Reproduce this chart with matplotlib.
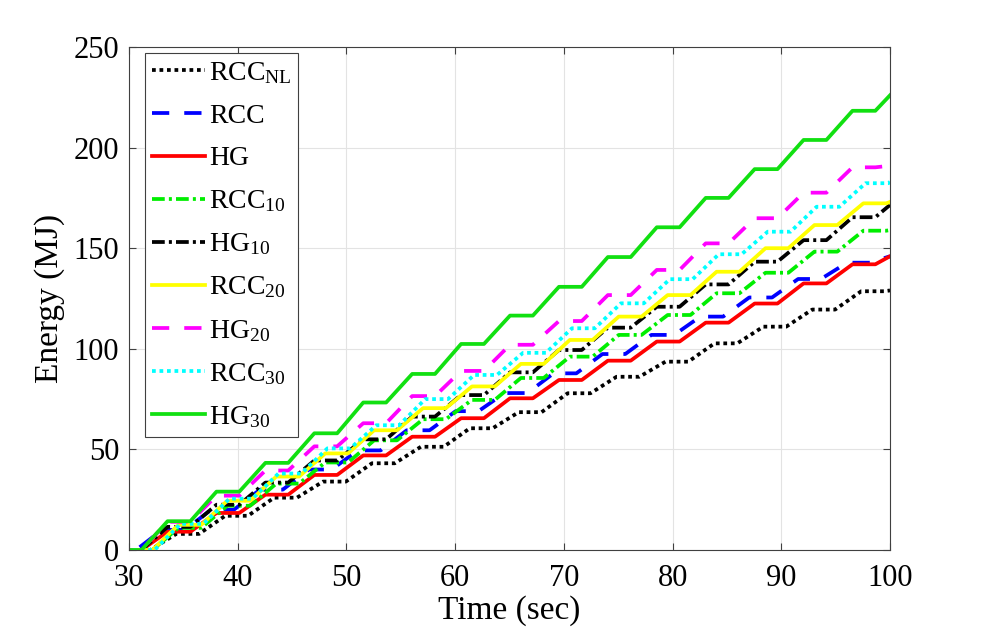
import numpy as np
import matplotlib.pyplot as plt

plt.rcParams['font.family'] = ['Liberation Serif', 'DejaVu Serif']
plt.rcParams['mathtext.fontset'] = 'custom'
plt.rcParams['mathtext.rm'] = 'Liberation Serif'
plt.rcParams['mathtext.it'] = 'Liberation Serif:italic'

# plateau centres (sec), shared by all series
centers = [30.1, 34.6, 39.1, 43.6, 48.1, 52.6, 57.1, 61.6, 66.1, 70.6,
           75.1, 79.6, 84.1, 88.6, 93.1, 97.6]
half_width = 1.05
t_end = 100

# plateau energy levels (MJ) per series
rcc_nl = [0, 8, 17, 26, 34, 43.1, 51.3, 60.5, 68.5, 77.9, 86.1, 93.6, 102.7, 111, 119.5, 128.6]
rcc = [0, 10, 20, 30, 40, 49.5, 59.5, 69, 78, 87.8, 97.4, 106.9, 116, 125.5, 134.7, 142.8]
hg = [0, 9.1, 18.4, 27.5, 37.3, 47, 56.3, 65.5, 75.4, 84.5, 94.1, 103.6, 113, 122.5, 132.5, 142]
rcc10 = [0, 11, 22, 33, 43.5, 54.5, 65, 74.6, 85.5, 96.1, 106.9, 116.8, 127.6, 137.8, 148.3, 158.7]
hg10 = [0, 11.5, 22.5, 33.5, 44.5, 55, 66.3, 77, 88.3, 99.4, 110.5, 120.9, 132, 143.3, 154, 165.4]
rcc20 = [0, 12.5, 24.5, 36.5, 48, 59.5, 70.5, 81.3, 92.5, 104.4, 116, 126.7, 138.3, 150, 161.5, 172.3]
hg20 = [0, 14, 27, 39.5, 51.5, 63, 76.5, 89, 102, 113.8, 126.7, 139.2, 152.4, 164.9, 177.6, 190.2]
rcc30 = [0, 13, 25.5, 38, 50.5, 62, 75, 87, 98, 110.2, 122.6, 134.6, 147, 158.2, 170.6, 182.3]
hg30 = [0, 14.3, 29, 43.3, 58, 73.3, 87.5, 102.4, 116.5, 130.8, 145.6, 160.4, 175, 189.3, 203.8, 218.3]

# value at t = 100 s and phase shift (sec) of each series
end_vals = [129, 146, 146, 159, 171.5, 173, 191, 183, 226]
shifts = [0.8, -0.5, 0, 1.0, 0, 1.0, 0, 1.2, 0]

labels = [r'RCC$_{\rm NL}$', 'RCC', 'HG', r'RCC$_{10}$', r'HG$_{10}$',
          r'RCC$_{20}$', r'HG$_{20}$', r'RCC$_{30}$', r'HG$_{30}$']
series = [rcc_nl, rcc, hg, rcc10, hg10, rcc20, hg20, rcc30, hg30]

styles = [
    dict(color='k', linestyle=(0, (1, 1))),
    dict(color='#0000ff', linestyle=(0, (4.6, 4))),
    dict(color='#ff0000', linestyle='-'),
    dict(color='#00ee00', linestyle=(0, (3.4, 1.1, 0.8, 1.1))),
    dict(color='k', linestyle=(0, (3.4, 1.1, 0.8, 1.1))),
    dict(color='#ffff00', linestyle='-'),
    dict(color='#ff00ff', linestyle=(0, (4.6, 4))),
    dict(color='#00ffff', linestyle=(0, (1, 1))),
    dict(color='#11e011', linestyle='-'),
]

fig = plt.figure(figsize=(9.83, 6.37), dpi=100)
ax = fig.add_axes([0.1312, 0.1366, 0.7742, 0.7896])

for levels, end, sh, lab, st in zip(series, end_vals, shifts, labels, styles):
    xs = [29]
    ys = [0]
    for c, lv in zip(centers, levels):
        xs += [c + sh - half_width, c + sh + half_width]
        ys += [lv, lv]
    xs.append(t_end)
    ys.append(end)
    ax.plot(xs, ys, linewidth=2.7, label=lab, solid_joinstyle='round',
            dash_capstyle='butt', **st)

ax.set_xlim(30, 100)
ax.set_ylim(0, 250)
ax.set_xticks(np.arange(30, 101, 10))
ax.set_yticks(np.arange(0, 251, 50))
ax.grid(True, color='#e3e3e3', linewidth=0.8)
ax.set_axisbelow(True)
ax.tick_params(direction='in', labelsize=22, top=True, right=True,
               length=5, color='0.25')
ax.tick_params(axis='x', pad=10)
ax.tick_params(axis='y', pad=7)
for sp in ax.spines.values():
    sp.set_color('0.25')
    sp.set_linewidth(0.8)

ax.set_xlabel('Time (sec)', fontsize=24, labelpad=2)
ax.set_ylabel('Energy (MJ)', fontsize=24, labelpad=6)

leg = ax.legend(loc='upper left', bbox_to_anchor=(0.021, 0.988),
                borderaxespad=0, fontsize=20, handlelength=1.9,
                handletextpad=0.15, labelspacing=0.62, borderpad=0.25,
                fancybox=False, framealpha=1, edgecolor='0.25')
leg.get_frame().set_linewidth(0.8)

fig.savefig('out.png', dpi=100)
